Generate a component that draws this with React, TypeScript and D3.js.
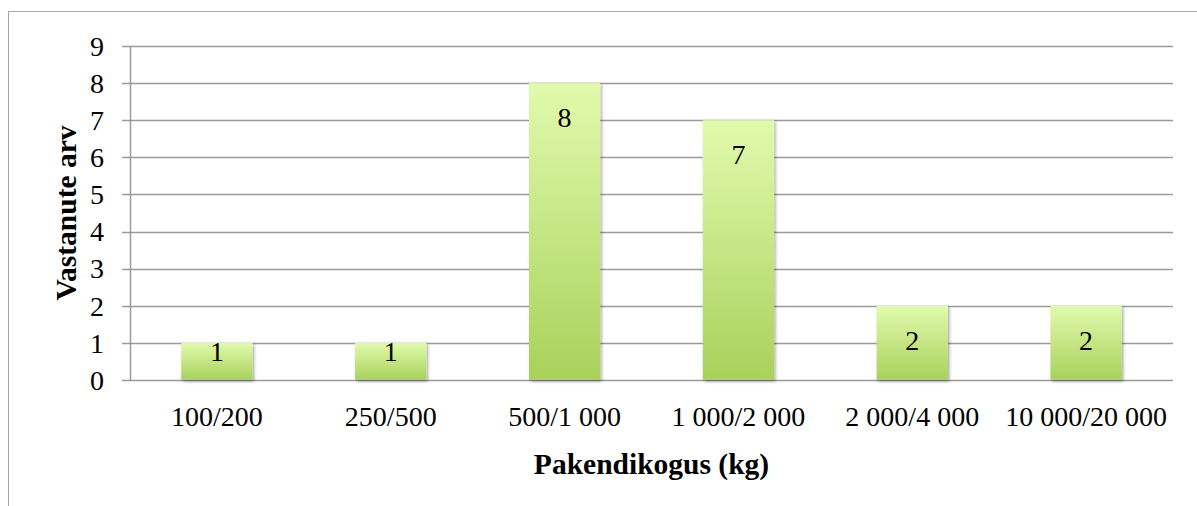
import { useEffect, useRef } from "react";
import * as d3 from "d3";

const categories = ["100/200", "250/500", "500/1 000", "1 000/2 000", "2 000/4 000", "10 000/20 000"];
const counts = [1, 1, 8, 7, 2, 2];
const yTicks = [0, 1, 2, 3, 4, 5, 6, 7, 8, 9];

export default function App() {
  const ref = useRef<SVGSVGElement | null>(null);

  useEffect(() => {
    if (!ref.current) return;
    const svg = d3.select(ref.current);
    svg.selectAll("*").remove();

    const width = 1197;
    const height = 506;
    const margin = { top: 46, right: 24, bottom: 126, left: 130 };
    const font = "'Liberation Serif', 'DejaVu Serif', serif";

    const defs = svg.append("defs");
    const grad = defs
      .append("linearGradient")
      .attr("id", "barGrad")
      .attr("x1", 0)
      .attr("x2", 0)
      .attr("y1", 0)
      .attr("y2", 1);
    grad.append("stop").attr("offset", "0%").attr("stop-color", "#e1faad");
    grad.append("stop").attr("offset", "100%").attr("stop-color", "#a9d15b");

    const shadow = defs
      .append("filter")
      .attr("id", "shadow")
      .attr("x", "-20%")
      .attr("y", "-20%")
      .attr("width", "140%")
      .attr("height", "140%");
    shadow
      .append("feDropShadow")
      .attr("dx", 1.5)
      .attr("dy", 1.5)
      .attr("stdDeviation", 1.8)
      .attr("flood-color", "#000")
      .attr("flood-opacity", 0.35);

    // outer frame (runs off the right and bottom edges)
    svg
      .append("rect")
      .attr("x", 8.5)
      .attr("y", 11.5)
      .attr("width", 1200)
      .attr("height", 520)
      .attr("fill", "none")
      .attr("stroke", "#a6a6a6")
      .attr("stroke-width", 1);

    const x = d3
      .scaleBand<string>()
      .domain(categories)
      .range([margin.left, width - margin.right])
      .paddingInner(0.59)
      .paddingOuter(0.295);

    const y = d3
      .scaleLinear()
      .domain([0, 9])
      .range([height - margin.bottom, margin.top]);

    // gridlines + tick marks
    svg
      .append("g")
      .selectAll("line")
      .data(yTicks)
      .join("line")
      .attr("x1", margin.left - 8)
      .attr("x2", width - margin.right)
      .attr("y1", (d) => Math.round(y(d)) + 0.5)
      .attr("y2", (d) => Math.round(y(d)) + 0.5)
      .attr("stroke", "#9a9a9a")
      .attr("stroke-width", 1.5);

    // y axis line
    svg
      .append("line")
      .attr("x1", margin.left + 0.5)
      .attr("x2", margin.left + 0.5)
      .attr("y1", y(9))
      .attr("y2", y(0))
      .attr("stroke", "#9a9a9a")
      .attr("stroke-width", 1.5);

    // y tick labels
    svg
      .append("g")
      .selectAll("text")
      .data(yTicks)
      .join("text")
      .attr("x", margin.left - 26)
      .attr("y", (d) => y(d))
      .attr("dy", "0.35em")
      .attr("text-anchor", "end")
      .attr("font-family", font)
      .attr("font-size", 28)
      .text((d) => String(d));

    // bars
    svg
      .append("g")
      .selectAll("rect")
      .data(counts)
      .join("rect")
      .attr("x", (_, i) => x(categories[i]) ?? 0)
      .attr("y", (d) => y(d))
      .attr("width", x.bandwidth())
      .attr("height", (d) => y(0) - y(d))
      .attr("fill", "url(#barGrad)")
      .attr("filter", "url(#shadow)");

    // value labels: inside end, but kept inside short bars
    svg
      .append("g")
      .selectAll("text")
      .data(counts)
      .join("text")
      .attr("x", (_, i) => (x(categories[i]) ?? 0) + x.bandwidth() / 2)
      .attr("y", (d) => Math.min(y(d) + 34, y(0) - 29))
      .attr("dy", "0.35em")
      .attr("text-anchor", "middle")
      .attr("font-family", font)
      .attr("font-size", 28)
      .text((d) => String(d));

    // category labels
    svg
      .append("g")
      .selectAll("text")
      .data(categories)
      .join("text")
      .attr("x", (d) => (x(d) ?? 0) + x.bandwidth() / 2)
      .attr("y", y(0) + 36)
      .attr("dy", "0.35em")
      .attr("text-anchor", "middle")
      .attr("font-family", font)
      .attr("font-size", 28)
      .text((d) => d);

    // axis titles
    svg
      .append("text")
      .attr("x", (margin.left + width - margin.right) / 2)
      .attr("y", 464)
      .attr("dy", "0.35em")
      .attr("text-anchor", "middle")
      .attr("font-family", font)
      .attr("font-size", 29.5)
      .attr("font-weight", "bold")
      .text("Pakendikogus (kg)");

    svg
      .append("text")
      .attr("transform", `translate(66, ${(y(0) + y(9)) / 2}) rotate(-90)`)
      .attr("dy", "0.35em")
      .attr("text-anchor", "middle")
      .attr("font-family", font)
      .attr("font-size", 29.5)
      .attr("font-weight", "bold")
      .text("Vastanute arv");
  }, []);

  return (
    <svg
      ref={ref}
      width={1197}
      height={506}
      style={{ position: "absolute", left: 0, top: 0, background: "#fff" }}
    />
  );
}
